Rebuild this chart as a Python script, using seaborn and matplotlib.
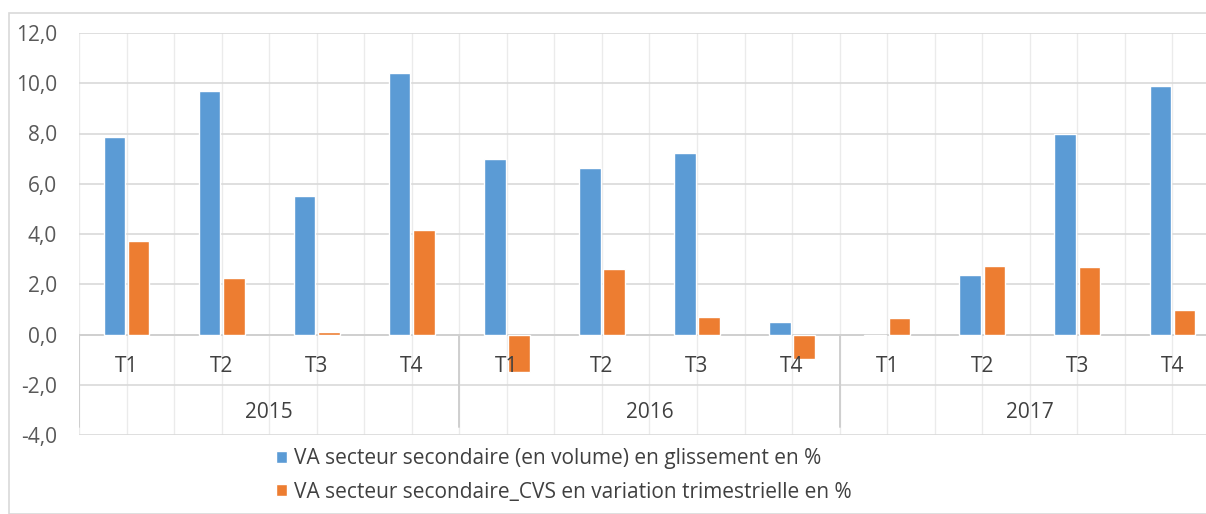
import pandas as pd
import matplotlib.pyplot as plt
import seaborn as sns
from matplotlib.patches import Rectangle

sns.set_style("white")
plt.rcParams['font.family'] = ['Open Sans', 'DejaVu Sans']

# Data
years = ['2015', '2016', '2017']
quarters = ['T1', 'T2', 'T3', 'T4']
va_glissement = [7.85, 9.70, 5.51, 10.42,
                 7.00, 6.62, 7.24, 0.50,
                 -0.07, 2.38, 8.00, 9.89]
va_cvs = [3.74, 2.23, 0.11, 4.16,
          -1.48, 2.62, 0.71, -0.99,
          0.66, 2.73, 2.68, 0.96]
series_names = ['VA secteur secondaire (en volume) en glissement en %',
                'VA secteur secondaire_CVS en variation trimestrielle en %']

periods = [f'{y} {q}' for y in years for q in quarters]
df = pd.DataFrame({
    'periode': periods * 2,
    'valeur': va_glissement + va_cvs,
    'serie': [series_names[0]] * 12 + [series_names[1]] * 12,
})

W, H = 1206, 514
fig = plt.figure(figsize=(W / 100, H / 100), dpi=100)

# outer chart border (Excel style)
fig.patches.append(Rectangle((9 / W, 0), 1.2, 1 - 13 / H, transform=fig.transFigure,
                             fill=False, edgecolor='#D9D9D9', linewidth=1.2))

ax = fig.add_axes([79 / W, 1 - 435 / H, (W - 79) / W, (435 - 33) / H])

sns.barplot(data=df, x='periode', y='valeur', hue='serie', order=periods,
            hue_order=series_names, palette=['#5B9BD5', '#ED7D31'],
            width=0.51, gap=0.11, saturation=1, ax=ax, zorder=3, legend=True)

ax.set_ylim(-4, 12)
ax.set_xlim(-0.5, 11.5 - 14 / 95.1)
ax.set_yticks(range(-4, 13, 2))
ax.set_yticklabels([f'{v},0' for v in range(-4, 13, 2)], color='#595959', fontsize=15)
ax.tick_params(axis='y', length=0, pad=16)
ax.set_xticks([])
ax.set_xlabel('')
ax.set_ylabel('')
for s in ax.spines.values():
    s.set_visible(False)

# gridlines
for v in range(-4, 13, 2):
    ax.axhline(v, color='#D9D9D9', linewidth=1.2, zorder=1)
for i in range(24):
    ax.axvline(-0.5 + i * 0.5, color='#EBEBEB', linewidth=1, zorder=0)
ax.axhline(0, color='#D0D0D0', linewidth=1.4, zorder=2)

# multi-level category axis
for xb in [-0.5, 3.5, 7.5]:
    ax.plot([xb, xb], [0, -3.7], color='#CFCFCF', linewidth=1.4, zorder=2)
for i, q in enumerate(quarters * 3):
    ax.text(i, -1.27, q, ha='center', va='center', fontsize=15, color='#404040', zorder=4)
for j, y in enumerate(years):
    ax.text(j * 4 + 1.5, -3.1, y, ha='center', va='center', fontsize=15, color='#404040', zorder=4)

handles, labels = ax.get_legend_handles_labels()
ax.get_legend().remove()
fig.legend(handles, labels, loc='upper left', bbox_to_anchor=(268 / W, 1 - 440 / H),
           frameon=False, fontsize=15, labelcolor='#404040', handlelength=0.5,
           handleheight=0.5, handletextpad=0.35, labelspacing=0.6, borderaxespad=0)

fig.savefig('out.png', dpi=100)
